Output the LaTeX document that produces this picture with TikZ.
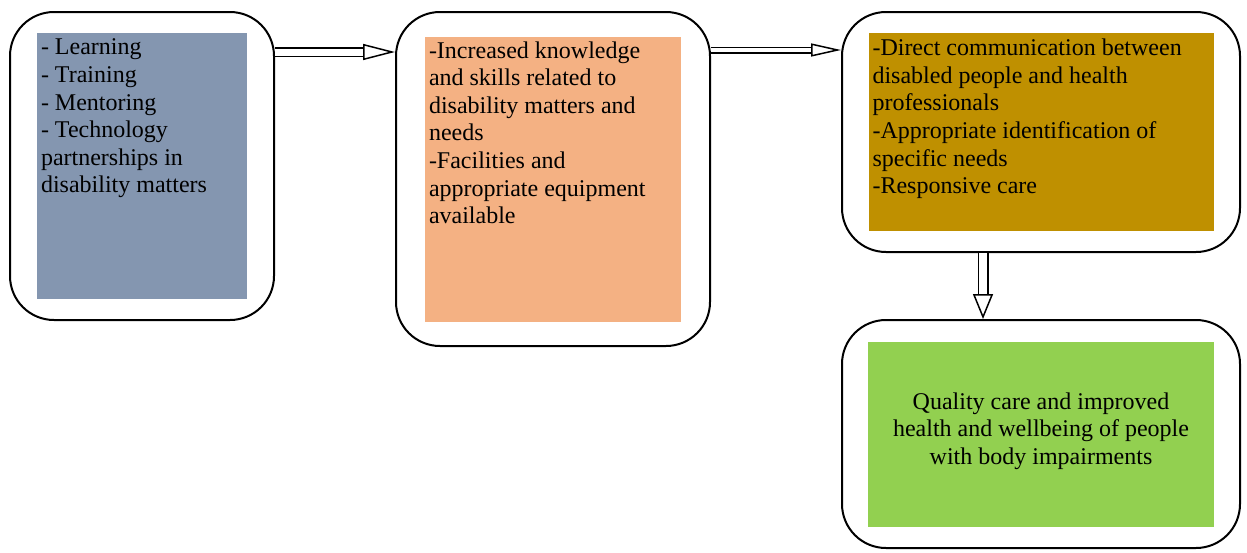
\documentclass[tikz,border=0pt]{standalone}
\usepackage{fontspec}
\setmainfont{Liberation Serif}
\usepackage{tikz}
\usetikzlibrary{positioning}
\usetikzlibrary{arrows.meta}
\definecolor{inputblue}{HTML}{8496B0}
\definecolor{skillpeach}{HTML}{F4B183}
\definecolor{careochre}{HTML}{BF9000}
\definecolor{resultgreen}{HTML}{92D050}
\tikzset{round box/.style={draw,rounded corners=22pt,line width=1pt,inner sep=0pt},
    fill box/.style={inner sep=0pt},
    box text/.style={inner sep=0pt,align=left,anchor=north west,font=\fontsize{12}{13.8}\selectfont},
    flow arrow/.style={double,line width=0.75pt},}

\begin{document}
\begin{tikzpicture}[x=1pt,y=1pt]
    \useasboundingbox (0,0) rectangle (623.5,-276);
    \node[round box,minimum width=132pt,minimum height=154pt] (b1) at (71,-83) {};
    \node[round box,minimum width=157pt,minimum height=167pt] (b2) at (276.5,-89.5) {};
    \node[round box,minimum width=199pt,minimum height=120pt] (b3) at (520.5,-66) {};
    \node[round box,minimum width=199pt,minimum height=114pt] (b4) at (520.5,-217) {};

    \node[fill box,fill=inputblue,minimum width=105pt,minimum height=133pt] (f1) at (b1) {};
    \node[fill box,fill=skillpeach,minimum width=128pt,minimum height=142.5pt] (f2) at (b2) {};
    \node[fill box,fill=careochre,minimum width=172.5pt,minimum height=99pt] (f3) at (b3) {};
    \node[fill box,fill=resultgreen,minimum width=173pt,minimum height=92.5pt] (f4) at (b4) {};

    \node[box text,xshift=2pt,yshift=-3pt] (t1) at (f1.north west)
        {- Learning\\- Training\\- Mentoring\\- Technology\\partnerships in\\disability matters};
    \node[box text,xshift=2pt,yshift=-2.5pt] (t2) at (f2.north west)
        {-Increased knowledge\\and skills related to\\disability matters and\\needs\\-Facilities and\\appropriate equipment\\available};
    \node[box text,xshift=2pt,yshift=-3pt] (t3) at (f3.north west)
        {-Direct communication between\\disabled people and health\\professionals\\-Appropriate identification of\\specific needs\\-Responsive care};
    \node[box text,align=center,anchor=center,yshift=1.5pt] (t4) at (f4)
        {Quality care and improved\\health and wellbeing of people\\with body impairments};

    \draw[flow arrow,double distance=3.5pt,-{Triangle[open,length=16pt,width=8pt]}]
        (b1.east |- 0,-26) -- (b2.west |- 0,-26);
    \draw[flow arrow,double distance=2pt,-{Triangle[open,length=15pt,width=6.5pt]}]
        (b2.east |- 0,-25) -- (b3.west |- 0,-25);
    \draw[flow arrow,double distance=4pt,-{Triangle[open,length=12.5pt,width=10pt]}]
        (b3.south -| 491.5,0) -- (b4.north -| 491.5,0);
\end{tikzpicture}
\end{document}
